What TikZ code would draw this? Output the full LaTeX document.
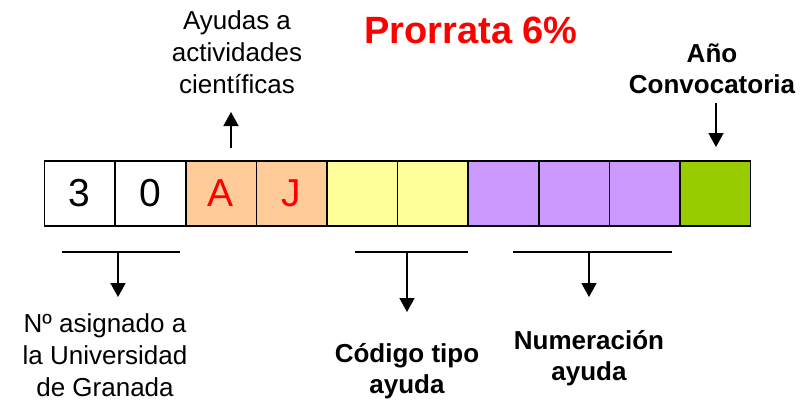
\documentclass[tikz,border=0pt]{standalone}
\usepackage{fontspec}
\setmainfont{Liberation Sans}
\usepackage{tikz}
\usetikzlibrary{arrows.meta,positioning}
\definecolor{peach}{RGB}{255, 204, 153}
\definecolor{paleyellow}{RGB}{255, 255, 153}
\definecolor{lavender}{RGB}{204, 153, 255}
\definecolor{leafgreen}{RGB}{153, 204, 0}
\tikzstyle{cell} = [rectangle, draw=black, line width=1.6pt, minimum width=70.6pt, minimum height=65pt, inner sep=0pt, outer sep=0pt, font=\fontsize{39}{39}\selectfont]
\tikzstyle{note} = [align=center, inner sep=0pt, font=\fontsize{26}{32}\selectfont]
\tikzstyle{bnote} = [align=center, inner sep=0pt, font=\bfseries\fontsize{26}{31}\selectfont]
\tikzstyle{brace} = [draw, line width=1.5pt]
\tikzstyle{tedge}  = [draw, line width=1.5pt, -{Triangle[length=14pt, width=15pt]}]

\begin{document}
\begin{tikzpicture}[x=1pt, y=-1pt]
\useasboundingbox (0,0) rectangle (810,399);

% cells =============================
\node[cell] (c1) at (79.8,193.5) {3};
\node[cell, right=0pt of c1] (c2) {0};
\node[cell, fill=peach, text=red, right=0pt of c2] (c3) {A};
\node[cell, fill=peach, text=red, right=0pt of c3] (c4) {J};
\node[cell, fill=paleyellow, right=0pt of c4] (c5) {};
\node[cell, fill=paleyellow, right=0pt of c5] (c6) {};
\node[cell, fill=lavender, right=0pt of c6] (c7) {};
\node[cell, fill=lavender, right=0pt of c7] (c8) {};
\node[cell, fill=lavender, right=0pt of c8] (c9) {};
\node[cell, fill=leafgreen, right=0pt of c9] (c10) {};

% title
\node[text=red, font=\bfseries\fontsize{38}{38}\selectfont] (title) at (471,30) {Prorrata 6\%};

% upper labels
\coordinate (afoot) at (231,148);
\coordinate (atip) at (231,112);
\node[note, above=18pt of atip, xshift=6pt] (ayudas) {Ayudas a\\actividades\\científicas};

\coordinate (ytop) at (716,103);
\coordinate (ytip) at (716,147);
\node[bnote, above=9pt of ytop, xshift=-4pt] (anio) {Año\\Convocatoria};

% lower brackets
\coordinate (u1) at (62,252);
\coordinate (u2) at (180,252);
\coordinate (um) at (118,252);
\coordinate (ut) at (118,297);
\node[note, below=16pt of ut, xshift=-13pt] (univ) {Nº asignado a\\la Universidad\\de Granada};

\coordinate (k1) at (355,252);
\coordinate (k2) at (468,252);
\coordinate (km) at (407,252);
\coordinate (kt) at (407,312);
\node[bnote, below=31pt of kt] (codigo) {Código tipo\\ayuda};

\coordinate (n1) at (513,252);
\coordinate (n2) at (672,252);
\coordinate (nm) at (589,252);
\coordinate (nt) at (589,297);
\node[bnote, below=33pt of nt] (numer) {Numeración\\ayuda};

%edges
\path[tedge] (afoot) -- (atip);
\path[tedge] (ytop) -- (ytip);
\path[brace] (u1) -- (u2);
\path[tedge] (um) -- (ut);
\path[brace] (k1) -- (k2);
\path[tedge] (km) -- (kt);
\path[brace] (n1) -- (n2);
\path[tedge] (nm) -- (nt);

\end{tikzpicture}
\end{document}
